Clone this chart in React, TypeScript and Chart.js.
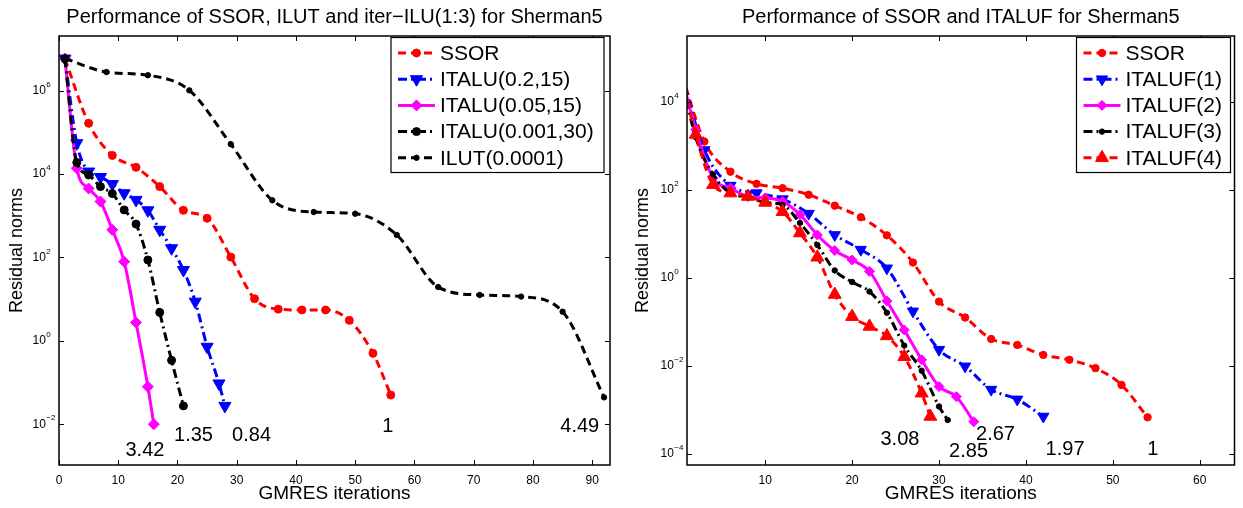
import React, { useEffect, useRef } from 'react';
import { Chart, registerables } from 'chart.js';

Chart.register(...registerables);

const FONT = '"Liberation Sans", Arial, Helvetica, sans-serif';

// ---------------- Left panel data ----------------
const leftTitle = 'Performance of SSOR, ILUT and iter\u2212ILU(1:3) for Sherman5';
const leftLabels = ['SSOR', 'ITALU(0.2,15)', 'ITALU(0.05,15)', 'ITALU(0.001,30)', 'ILUT(0.0001)'];
const leftSsorIters = [1, 5, 9, 13, 17, 21, 25, 29, 33, 37, 41, 45, 49, 53, 56];
const leftSsorRes = [5.9e6, 1.66e5, 2.8e4, 1.45e4, 5.0e3, 1.35e3, 8.7e2, 1.02e2, 10.2, 5.75, 5.5, 5.5, 3.1, 0.5, 0.05];
const italu1Iters = [1, 3, 5, 7, 9, 11, 13, 15, 17, 19, 21, 23, 25, 27, 28];
const italu1Res = [5.9e6, 5.5e4, 1.15e4, 8.5e3, 5.75e3, 3.47e3, 2.4e3, 1.35e3, 4.6e2, 1.66e2, 50, 8.7, 0.72, 0.095, 0.0275];
const italu2Iters = [1, 3, 5, 7, 9, 11, 13, 15, 16];
const italu2Res = [5.9e6, 1.38e4, 4.5e3, 2.2e3, 4.6e2, 79, 2.75, 0.079, 0.01];
const italu3Iters = [1, 3, 5, 7, 9, 11, 13, 15, 17, 19, 21];
const italu3Res = [5.9e6, 1.9e4, 9.5e3, 5.0e3, 3.4e3, 1.38e3, 6.3e2, 87, 4.8, 0.34, 0.0275];
const ilutIters = [1, 8, 15, 22, 29, 36, 43, 50, 57, 64, 71, 78, 85, 92];
const ilutRes = [5.9e6, 2.8e6, 2.35e6, 1.02e6, 5.2e4, 2.35e3, 1.23e3, 1.12e3, 3.47e2, 19.5, 12.6, 11.5, 5.0, 0.044];
const leftXTicks = [0, 10, 20, 30, 40, 50, 60, 70, 80, 90];
const leftYTickExps = [-2, 0, 2, 4, 6];
const leftNotes = ['3.42', '1.35', '0.84', '1', '4.49'];
const leftNoteX = [14.5, 22.7, 32.5, 55.5, 87.9];
const leftNoteY = [2.4e-3, 5.5e-3, 5.5e-3, 8.7e-3, 8.7e-3];

// ---------------- Right panel data ----------------
const rightTitle = 'Performance of SSOR and ITALUF for Sherman5';
const rightLabels = ['SSOR', 'ITALUF(1)', 'ITALUF(2)', 'ITALUF(3)', 'ITALUF(4)'];
const rightSsorIters = [0, 3, 6, 9, 12, 15, 18, 21, 24, 27, 30, 33, 36, 39, 42, 45, 48, 51, 54];
const rightSsorRes = [7.9e4, 1.26e3, 2.6e2, 1.38e2, 1.1e2, 78, 44, 24, 9.3, 2.24, 0.29, 0.126, 0.041, 0.030, 0.0178, 0.0138, 0.0089, 0.0037, 6.8e-4];
const italuf1Iters = [0, 3, 6, 9, 12, 15, 18, 21, 24, 27, 30, 33, 36, 39, 42];
const italuf1Res = [7.9e4, 8.1e2, 1.26e2, 85, 62, 29, 9.5, 4.4, 1.66, 0.174, 0.0234, 0.0098, 0.0029, 0.00174, 7.1e-4];
const italuf2Iters = [0, 2, 4, 6, 8, 10, 12, 14, 16, 18, 20, 22, 24, 26, 28, 30, 32, 34];
const italuf2Res = [7.9e4, 2.34e3, 1.86e2, 1.1e2, 71, 66, 55, 27.5, 9.5, 4.2, 2.57, 1.41, 0.30, 0.066, 0.0138, 0.0034, 0.002, 5.4e-4];
const italuf3Iters = [0, 2, 4, 6, 8, 10, 12, 14, 16, 18, 20, 22, 24, 26, 28, 30, 31];
const italuf3Res = [7.9e4, 1.58e3, 2.24e2, 85, 69, 52, 46, 17.8, 5.6, 1.48, 0.81, 0.49, 0.162, 0.029, 0.0078, 0.0012, 5.9e-4];
const italuf4Iters = [0, 2, 4, 6, 8, 10, 12, 14, 16, 18, 20, 22, 24, 26, 28, 29];
const italuf4Res = [7.9e4, 1.82e3, 1.32e2, 85, 71, 52, 32, 10.5, 2.95, 0.42, 0.132, 0.079, 0.048, 0.0162, 0.0024, 7.1e-4];
const rightXTicks = [10, 20, 30, 40, 50, 60];
const rightYTickExps = [-4, -2, 0, 2, 4];
const rightNotes = ['3.08', '2.67', '2.85', '1.97', '1'];
const rightNoteX = [25.5, 36.5, 33.4, 44.5, 54.6];
const rightNoteY = [2.1e-4, 2.8e-4, 1.12e-4, 1.23e-4, 1.23e-4];

// ---------------- Styles ----------------
const DASH = [8, 5];
const DASHDOT = [9, 4, 2, 4];
const leftStyles = [
  { color: '#ff0000', dash: DASH, width: 3, marker: 'circle', radius: 4, rotation: 0 },
  { color: '#0000ff', dash: DASHDOT, width: 3, marker: 'triangle', radius: 7, rotation: 180 },
  { color: '#ff00ff', dash: [], width: 3, marker: 'rectRot', radius: 5.5, rotation: 0 },
  { color: '#000000', dash: DASHDOT, width: 3, marker: 'circle', radius: 4, rotation: 0 },
  { color: '#000000', dash: DASH, width: 3, marker: 'circle', radius: 2.7, rotation: 0 },
];
const rightStyles = [
  { color: '#ff0000', dash: DASH, width: 3, marker: 'circle', radius: 3.7, rotation: 0 },
  { color: '#0000ff', dash: DASHDOT, width: 3, marker: 'triangle', radius: 6.5, rotation: 180 },
  { color: '#ff00ff', dash: [], width: 3, marker: 'rectRot', radius: 5, rotation: 0 },
  { color: '#000000', dash: DASHDOT, width: 3, marker: 'circle', radius: 2.7, rotation: 0 },
  { color: '#ff0000', dash: DASH, width: 3, marker: 'triangle', radius: 7.5, rotation: 0 },
];

function toPoints(iters: number[], res: number[]) {
  return iters.map((x, i) => ({ x, y: res[i] }));
}

function drawMarker(ctx: CanvasRenderingContext2D, st: any, x: number, y: number) {
  const r = st.radius;
  ctx.save();
  ctx.setLineDash([]);
  ctx.fillStyle = st.color;
  ctx.strokeStyle = st.color;
  ctx.lineWidth = 1;
  ctx.beginPath();
  if (st.marker === 'circle') {
    ctx.arc(x, y, r, 0, Math.PI * 2);
  } else if (st.marker === 'triangle') {
    let a = (st.rotation * Math.PI) / 180;
    for (let k = 0; k < 3; k++) {
      const px = x + Math.sin(a) * r;
      const py = y - Math.cos(a) * r;
      if (k === 0) ctx.moveTo(px, py);
      else ctx.lineTo(px, py);
      a += (2 * Math.PI) / 3;
    }
    ctx.closePath();
  } else {
    ctx.moveTo(x, y - r);
    ctx.lineTo(x + r, y);
    ctx.lineTo(x, y + r);
    ctx.lineTo(x - r, y);
    ctx.closePath();
  }
  ctx.fill();
  ctx.stroke();
  ctx.restore();
}

function makeDecor(cfg: any) {
  return {
    id: 'decor',
    afterDraw(chart: any) {
      const ctx: CanvasRenderingContext2D = chart.ctx;
      const a = chart.chartArea;
      const xs = chart.scales.x;
      const ys = chart.scales.y;
      ctx.save();
      ctx.fillStyle = '#000';
      ctx.strokeStyle = '#000';

      // annotations
      ctx.font = `20px ${FONT}`;
      ctx.textAlign = 'center';
      ctx.textBaseline = 'middle';
      cfg.notes.forEach((t: string, i: number) => {
        ctx.fillText(t, xs.getPixelForValue(cfg.noteX[i]), ys.getPixelForValue(cfg.noteY[i]));
      });

      // box
      ctx.lineWidth = 1.5;
      ctx.setLineDash([]);
      ctx.strokeRect(a.left, a.top, a.right - a.left, a.bottom - a.top);

      // ticks
      ctx.lineWidth = 1;
      const TL = 5;
      ctx.beginPath();
      cfg.xTicks.forEach((v: number) => {
        const px = Math.round(xs.getPixelForValue(v)) + 0.5;
        ctx.moveTo(px, a.bottom);
        ctx.lineTo(px, a.bottom - TL);
        ctx.moveTo(px, a.top);
        ctx.lineTo(px, a.top + TL);
      });
      cfg.yExps.forEach((e: number) => {
        const py = Math.round(ys.getPixelForValue(Math.pow(10, e))) + 0.5;
        ctx.moveTo(a.left, py);
        ctx.lineTo(a.left + TL, py);
        ctx.moveTo(a.right, py);
        ctx.lineTo(a.right - TL, py);
      });
      ctx.stroke();

      // x tick labels
      ctx.font = `12px ${FONT}`;
      ctx.textAlign = 'center';
      ctx.textBaseline = 'middle';
      cfg.xTicks.forEach((v: number) => {
        ctx.fillText(String(v), xs.getPixelForValue(v), a.bottom + 16);
      });
      // y tick labels 10^e
      cfg.yExps.forEach((e: number) => {
        const py = ys.getPixelForValue(Math.pow(10, e));
        const lx = a.left - 26.5;
        ctx.font = `12px ${FONT}`;
        ctx.textAlign = 'left';
        ctx.textBaseline = 'middle';
        ctx.fillText('10', lx, py);
        const w = ctx.measureText('10').width;
        ctx.font = `8px ${FONT}`;
        ctx.fillText(e < 0 ? '\u2212' + Math.abs(e) : String(e), lx + w + 0.5, py - 6);
      });

      // axis titles
      ctx.font = `19px ${FONT}`;
      ctx.textAlign = 'center';
      ctx.textBaseline = 'middle';
      ctx.fillText('GMRES iterations', (a.left + a.right) / 2, a.bottom + 29);
      ctx.save();
      ctx.translate(a.left - cfg.yTitleOffset, (a.top + a.bottom) / 2);
      ctx.rotate(-Math.PI / 2);
      ctx.font = `18px ${FONT}`;
      ctx.fillText('Residual norms', 0, 0);
      ctx.restore();

      // title
      ctx.font = `20px ${FONT}`;
      ctx.textAlign = 'center';
      ctx.textBaseline = 'middle';
      ctx.fillText(cfg.title, (a.left + a.right) / 2, a.top - 19);

      // legend
      const bw = cfg.legendWidth;
      const bh = 135;
      const bx = a.right - cfg.legendRight - bw;
      const by = a.top + 1.5;
      ctx.fillStyle = '#fff';
      ctx.fillRect(bx, by, bw, bh);
      ctx.strokeStyle = '#000';
      ctx.lineWidth = 1.2;
      ctx.strokeRect(bx, by, bw, bh);
      cfg.labels.forEach((lab: string, i: number) => {
        const st = cfg.styles[i];
        const cy = by + 15.5 + i * 26.2;
        ctx.save();
        ctx.strokeStyle = st.color;
        ctx.lineWidth = st.width;
        ctx.setLineDash(st.dash);
        ctx.beginPath();
        ctx.moveTo(bx + 7, cy);
        ctx.lineTo(bx + 44, cy);
        ctx.stroke();
        ctx.restore();
        drawMarker(ctx, st, bx + 25.5, cy);
        ctx.fillStyle = '#000';
        ctx.font = `21px ${FONT}`;
        ctx.textAlign = 'left';
        ctx.textBaseline = 'middle';
        ctx.fillText(lab, bx + 49, cy + 1);
      });
      ctx.restore();
    },
  };
}

function buildDatasets(labels: string[], series: any[], styles: any[]) {
  return series.map((s, i) => {
    const st = styles[i];
    return {
      label: labels[i],
      data: toPoints(s[0], s[1]),
      borderColor: st.color,
      backgroundColor: st.color,
      borderWidth: st.width,
      borderDash: st.dash,
      pointStyle: st.marker,
      pointRadius: st.radius,
      pointRotation: st.rotation,
      pointBackgroundColor: st.color,
      pointBorderColor: st.color,
      pointBorderWidth: 1,
      cubicInterpolationMode: 'monotone',
      fill: false,
      order: -i,
    };
  });
}

function makeConfig(opts: any) {
  return {
    type: 'line',
    data: { datasets: opts.datasets },
    options: {
      animation: false,
      responsive: false,
      maintainAspectRatio: false,
      events: [],
      layout: { padding: opts.padding },
      plugins: {
        legend: { display: false },
        title: { display: false },
        tooltip: { enabled: false },
      },
      scales: {
        x: { type: 'linear', min: opts.xMin, max: opts.xMax, display: false },
        y: { type: 'logarithmic', min: opts.yMin, max: opts.yMax, display: false },
      },
    },
    plugins: [makeDecor(opts.decor)],
  };
}

export default function App() {
  const leftRef = useRef<HTMLCanvasElement>(null);
  const rightRef = useRef<HTMLCanvasElement>(null);

  useEffect(() => {
    const leftDatasets = buildDatasets(
      leftLabels,
      [
        [leftSsorIters, leftSsorRes],
        [italu1Iters, italu1Res],
        [italu2Iters, italu2Res],
        [italu3Iters, italu3Res],
        [ilutIters, ilutRes],
      ],
      leftStyles
    );
    const rightDatasets = buildDatasets(
      rightLabels,
      [
        [rightSsorIters, rightSsorRes],
        [italuf1Iters, italuf1Res],
        [italuf2Iters, italuf2Res],
        [italuf3Iters, italuf3Res],
        [italuf4Iters, italuf4Res],
      ],
      rightStyles
    );
    const left = new Chart(
      leftRef.current as HTMLCanvasElement,
      makeConfig({
        datasets: leftDatasets,
        padding: { left: 59, right: 12, top: 36, bottom: 43 },
        xMin: 0,
        xMax: 93,
        yMin: 1.05e-3,
        yMax: 2.05e7,
        decor: {
          title: leftTitle,
          labels: leftLabels,
          styles: leftStyles,
          xTicks: leftXTicks,
          yExps: leftYTickExps,
          notes: leftNotes,
          noteX: leftNoteX,
          noteY: leftNoteY,
          legendWidth: 213,
          legendRight: 6,
          yTitleOffset: 42,
        },
      }) as any
    );
    const right = new Chart(
      rightRef.current as HTMLCanvasElement,
      makeConfig({
        datasets: rightDatasets,
        padding: { left: 65, right: 7, top: 36, bottom: 43 },
        xMin: 1,
        xMax: 64,
        yMin: 5.6e-5,
        yMax: 3.16e5,
        decor: {
          title: rightTitle,
          labels: rightLabels,
          styles: rightStyles,
          xTicks: rightXTicks,
          yExps: rightYTickExps,
          notes: rightNotes,
          noteX: rightNoteX,
          noteY: rightNoteY,
          legendWidth: 154,
          legendRight: 4,
          yTitleOffset: 44,
        },
      }) as any
    );
    return () => {
      left.destroy();
      right.destroy();
    };
  }, []);

  return (
    <div style={{ position: 'fixed', left: 0, top: 0, width: 1243, height: 508, background: '#fff' }}>
      <canvas ref={leftRef} width={622} height={508} style={{ position: 'absolute', left: 0, top: 0, width: 622, height: 508 }} />
      <canvas ref={rightRef} width={621} height={508} style={{ position: 'absolute', left: 622, top: 0, width: 621, height: 508 }} />
    </div>
  );
}
